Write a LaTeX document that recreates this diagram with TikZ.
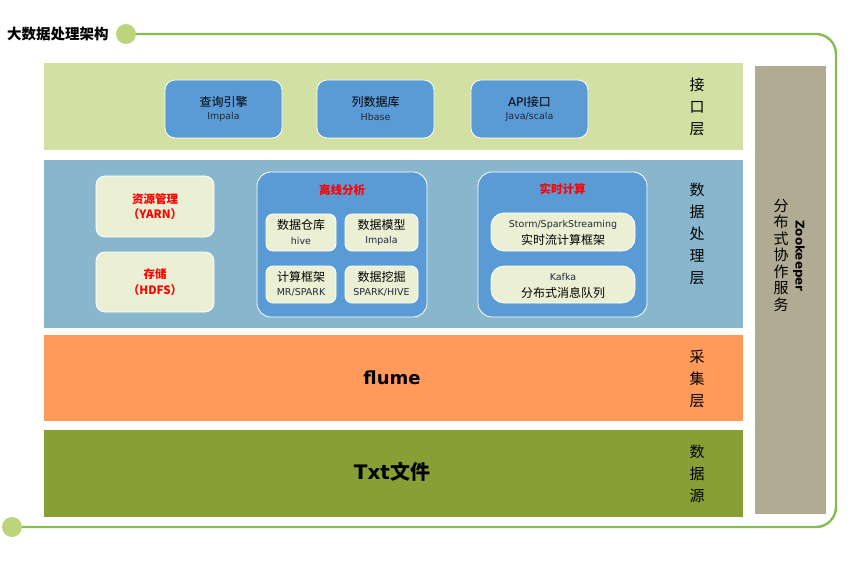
\documentclass[tikz,border=0pt]{standalone}
\usepackage{fontspec}
\setmainfont{Noto Sans CJK SC}
\newfontfamily\latin{DejaVu Sans}
\definecolor{frameg}{HTML}{88BB55}
\definecolor{dotg}{HTML}{BDD57A}
\definecolor{ifc}{HTML}{D3E0A4}
\definecolor{proc}{HTML}{88B6CD}
\definecolor{coll}{HTML}{FF9A5B}
\definecolor{src}{HTML}{86A036}
\definecolor{zoo}{HTML}{B1AB93}
\definecolor{bbox}{HTML}{5B9BD5}
\definecolor{cream}{HTML}{EBF0D4}
\definecolor{dtext}{HTML}{1F2A3A}
\begin{document}
\begin{tikzpicture}[x=1pt,y=-1pt,
  bluebox/.style={fill=bbox,draw=white,line width=0.8pt,rounded corners=10pt,inner sep=0pt},
  creambox/.style={fill=cream,draw=white,line width=0.8pt,rounded corners=9pt,inner sep=0pt},
  cn/.style={font=\fontsize{12}{14}\selectfont,inner sep=0pt},
  en/.style={font=\latin\fontsize{9.5}{11}\selectfont,text=dtext,inner sep=0pt},
  redt/.style={font=\bfseries\fontsize{11.5}{13}\selectfont,text=red,inner sep=0pt},
  lbl/.style={font=\fontsize{15}{22}\selectfont,align=center,inner sep=0pt},
  dot/.style={circle,fill=dotg,draw=none,minimum size=20pt,inner sep=0pt},
  frame/.style={draw=frameg,line width=2.4pt}]
\useasboundingbox (0,0) rectangle (851,564);
% frame
\node[dot] (d1) at (126,34) {};
\node[dot] (d2) at (12,527) {};
\node[font=\bfseries\fontsize{14.5}{16}\selectfont,anchor=west,inner sep=0pt] (title) at (7,34) {大数据处理架构};
\coordinate (cr1) at (836,34);
\coordinate (cr2) at (836,527);
\draw[frame,rounded corners=20pt] (d1.east) -- (cr1) -- (cr2) -- (d2.east);
% layers
\fill[ifc] (44,63) rectangle (743,150);
\fill[proc] (44,160) rectangle (743,328);
\fill[coll] (44,335) rectangle (743,421);
\fill[src] (44,430) rectangle (743,517);
\fill[zoo] (755,66) rectangle (826,514);
% layer labels
\node[lbl] (l1) at (697,107) {接\\口\\层};
\node[lbl] (l2) at (697,234) {数\\据\\处\\理\\层};
\node[lbl] (l3) at (697,379) {采\\集\\层};
\node[lbl] (l4) at (697,474) {数\\据\\源};
% interface boxes
\node[bluebox,minimum width=117pt,minimum height=58pt] (q) at (223.5,109) {};
\node[bluebox,minimum width=117pt,minimum height=58pt] (h) at (375.5,109) {};
\node[bluebox,minimum width=117pt,minimum height=58pt] (a) at (529.5,109) {};
\node[cn] (qt) at (223.5,102) {查询引擎};
\node[en] (qs) at (223.5,116.5) {Impala};
\node[cn] (ht) at (375.5,102) {列数据库};
\node[en] (hs) at (375.5,116.5) {Hbase};
\node[cn] (at) at (529.5,102) {{\latin API}接口};
\node[en] (as) at (529.5,116.5) {Java/scala};
% resource boxes
\node[creambox,minimum width=118pt,minimum height=61pt] (yarn) at (155,206.5) {};
\node[creambox,minimum width=118pt,minimum height=60pt] (hdfs) at (155,282) {};
\node[redt] (yt) at (155,199) {资源管理};
\node[redt] (ys) at (155,214.5) {（YARN）};
\node[redt] (st) at (155,274.5) {存储};
\node[redt] (ss) at (155,290.5) {（HDFS）};
% offline analysis
\node[bluebox,minimum width=170pt,minimum height=145pt,rounded corners=14pt] (off) at (342,244.5) {};
\node[redt] (offt) at (342,190) {离线分析};
\node[creambox,minimum width=70pt,minimum height=37pt,rounded corners=7pt] (o1) at (301,232.5) {};
\node[creambox,minimum width=73pt,minimum height=37pt,rounded corners=7pt] (o2) at (381.5,232.5) {};
\node[creambox,minimum width=70pt,minimum height=37pt,rounded corners=7pt] (o3) at (301,284.5) {};
\node[creambox,minimum width=73pt,minimum height=37pt,rounded corners=7pt] (o4) at (381.5,284.5) {};
\node[cn] (o1t) at (301,225) {数据仓库};
\node[en] (o1s) at (301,240.5) {hive};
\node[cn] (o2t) at (381.5,225) {数据模型};
\node[en] (o2s) at (381.5,240.5) {Impala};
\node[cn] (o3t) at (301,277) {计算框架};
\node[en] (o3s) at (301,292) {MR/SPARK};
\node[cn] (o4t) at (381.5,277) {数据挖掘};
\node[en] (o4s) at (381.5,292) {SPARK/HIVE};
% realtime
\node[bluebox,minimum width=169pt,minimum height=145pt,rounded corners=14pt] (rt) at (562.5,244.5) {};
\node[redt] (rtt) at (562.5,189) {实时计算};
\node[creambox,minimum width=144pt,minimum height=38pt,rounded corners=13pt] (r1) at (563,232) {};
\node[creambox,minimum width=144pt,minimum height=37pt,rounded corners=13pt] (r2) at (563,284.5) {};
\node[en] (r1s) at (563,224.5) {Storm/SparkStreaming};
\node[cn] (r1t) at (563,240) {实时流计算框架};
\node[en] (r2s) at (563,276.5) {Kafka};
\node[cn] (r2t) at (563,292.5) {分布式消息队列};
% flume, txt
\node[font=\latin\bfseries\fontsize{18}{22}\selectfont,inner sep=0pt] (fl) at (392,378) {flume};
\node[font=\bfseries\fontsize{20}{24}\selectfont,inner sep=0pt] (tx) at (392,472) {{\latin\bfseries Txt}文件};
% zookeeper
\node[font=\latin\bfseries\fontsize{12}{14}\selectfont,rotate=-90,inner sep=0pt] (zk) at (799,256) {Zookeeper};
\node[font=\fontsize{15}{16.5}\selectfont,align=center,inner sep=0pt] (zs) at (781,255) {分\\布\\式\\协\\作\\服\\务};
\end{tikzpicture}
\end{document}
